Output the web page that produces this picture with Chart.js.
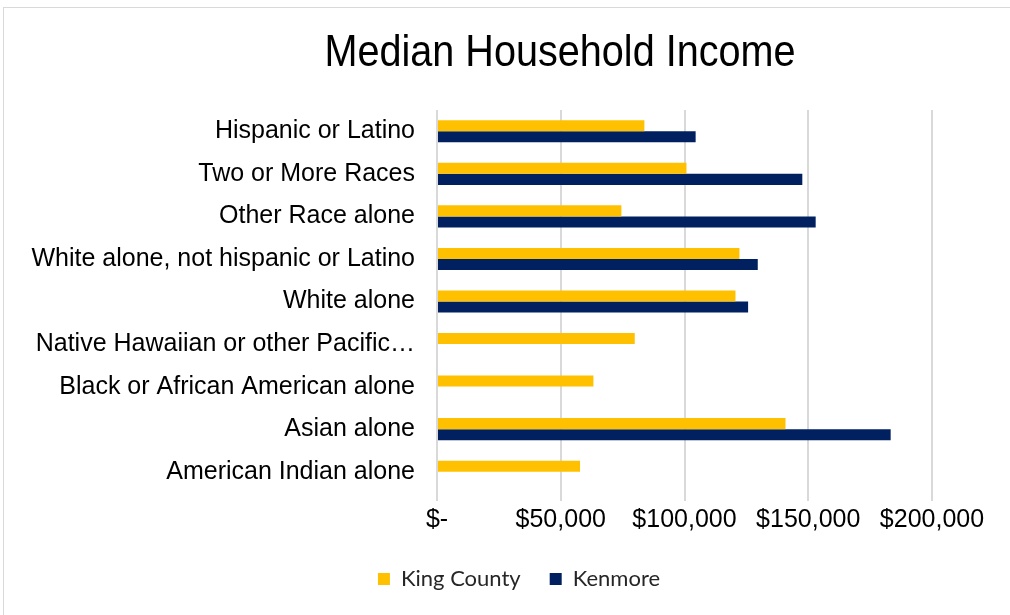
<!DOCTYPE html>
<html>
<head>
<meta charset="utf-8">
<script src="https://cdn.jsdelivr.net/npm/chart.js@4"></script>
<style>
  html, body { margin: 0; padding: 0; background: #fff; }
  #frame { position: absolute; left: 3px; top: 7px; width: 1010px; height: 615px; border: 1px solid #d9d9d9; box-sizing: border-box; }
  #wrap { position: absolute; left: 0; top: 0; width: 1010px; height: 615px; }
</style>
</head>
<body>
<div id="frame"></div>
<div id="wrap"><canvas id="chart"></canvas></div>
<script>
// categories top to bottom
const categories = [
  'Hispanic or Latino',
  'Two or More Races',
  'Other Race alone',
  'White alone, not hispanic or Latino',
  'White alone',
  'Native Hawaiian or other Pacific\u2026',
  'Black or African American alone',
  'Asian alone',
  'American Indian alone'
]
const kingCounty = [83800, 100800, 74500, 122200, 120600, 79900, 63200, 140800, 57800]
const kenmore = [104500, 147600, 153000, 129600, 125700, null, null, 183300, null]
const xTicks = [0, 50000, 100000, 150000, 200000]
const chartTitle = 'Median Household Income'

const money = v => v === 0 ? '$-' : '$' + v.toLocaleString('en-US')

// the title font is a narrow one, so draw it squeezed a little
const narrowTitle = {
  id: 'narrowTitle',
  afterDraw(chart, args, opts) {
    const ctx = chart.ctx
    ctx.save()
    ctx.font = opts.font
    ctx.fillStyle = opts.color
    ctx.textAlign = 'center'
    ctx.textBaseline = 'alphabetic'
    ctx.translate(opts.x, opts.y)
    ctx.scale(opts.squeeze, 1)
    ctx.fillText(opts.text, 0, 0)
    ctx.restore()
  }
}

// legend sits right of centre, so the left padding is wide;
// let the long category labels run out into it without being clipped
const wideLabels = {
  id: 'wideLabels',
  afterLayout(chart) {
    chart.scales.y.left = 0
  }
}

const config = {
  type: 'bar',
  data: {
    labels: categories,
    datasets: [
      { label: 'King County', data: kingCounty, backgroundColor: '#FFC000' },
      { label: 'Kenmore', data: kenmore, backgroundColor: '#002060' }
    ]
  },
  options: {
    indexAxis: 'y',
    responsive: false,
    animation: false,
    layout: { padding: { left: 106, right: 78, top: 110, bottom: 15 } },
    datasets: {
      bar: { categoryPercentage: 0.52, barPercentage: 1.0 }
    },
    plugins: {
      narrowTitle: {
        text: chartTitle,
        font: "45px 'Liberation Sans', Arial",
        color: '#000',
        squeeze: 0.88,
        x: 560,
        y: 66
      },
      legend: {
        position: 'bottom',
        labels: {
          boxWidth: 12,
          boxHeight: 12,
          padding: 29,
          color: '#262626',
          font: { size: 22, family: "Lato, 'Open Sans', sans-serif" }
        }
      },
      tooltip: { enabled: false }
    },
    scales: {
      x: {
        min: 0,
        max: 200000,
        afterBuildTicks: axis => { axis.ticks = xTicks.map(v => ({ value: v })) },
        grid: { color: '#d9d9d9', lineWidth: 2, drawTicks: true, tickLength: 8 },
        border: { display: false },
        ticks: {
          callback: v => money(v),
          color: '#000',
          padding: 4,
          maxRotation: 0,
          font: { size: 25, family: "'Liberation Sans', Arial" }
        }
      },
      y: {
        grid: { display: false },
        border: { display: false },
        afterFit: axis => { axis.width = 331 },
        ticks: {
          color: '#000',
          padding: 14,
          font: { size: 25, family: "'Liberation Sans', Arial" }
        }
      }
    }
  },
  plugins: [narrowTitle, wideLabels]
}

const canvas = document.getElementById('chart')
canvas.width = 1010
canvas.height = 615
new Chart(canvas.getContext('2d'), config)
</script>
</body>
</html>
